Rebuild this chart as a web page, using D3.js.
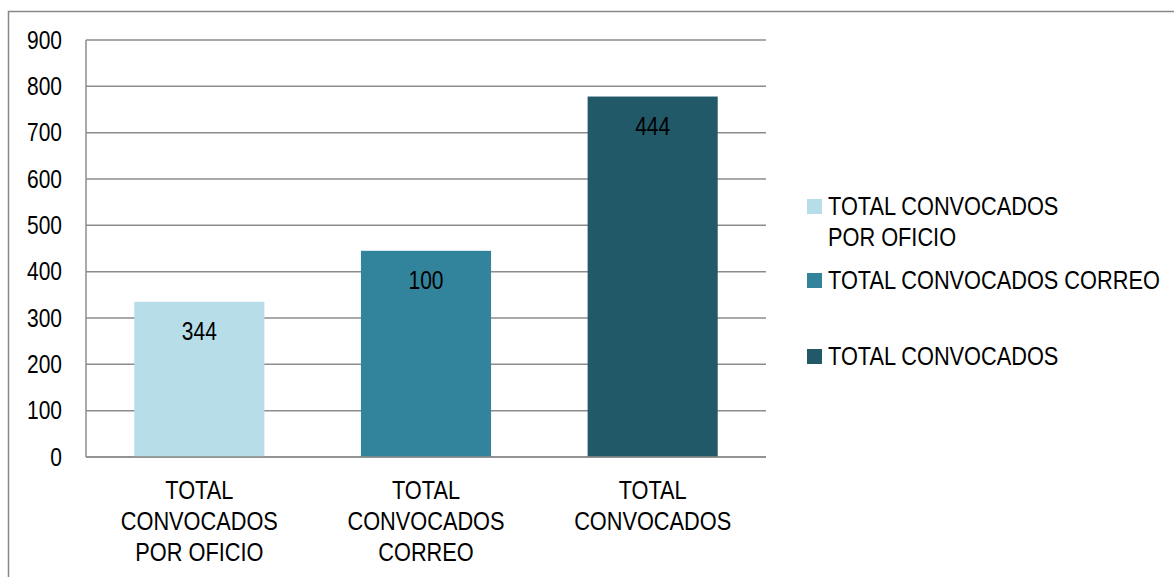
<!DOCTYPE html>
<html><head><meta charset="utf-8">
<script src="https://cdn.jsdelivr.net/npm/d3@7"></script>
<style>body{margin:0;background:#fff}svg{display:block}text{font-family:"Liberation Sans Narrow","Arial Narrow","Liberation Sans",sans-serif;fill:#000}</style>
</head><body><svg id="c" width="1174" height="577"></svg>
<script>
const categories = [["TOTAL","CONVOCADOS","POR OFICIO"],["TOTAL","CONVOCADOS","CORREO"],["TOTAL","CONVOCADOS"]];
const values = [335, 445, 778];
const dataLabels = ["344", "100", "444"];
const legendLabels = [["TOTAL CONVOCADOS","POR OFICIO"],["TOTAL CONVOCADOS CORREO"],["TOTAL CONVOCADOS"]];
const colors = ["#b7dde8", "#31849b", "#215968"];
const yTicks = [0,100,200,300,400,500,600,700,800,900];

const SX = 0.87, SXN = 0.84, FS = "25px";
const svg = d3.select("#c");
svg.append("rect").attr("x",8.5).attr("y",11.5).attr("width",1200).attr("height",600)
  .attr("fill","none").attr("stroke","#888").attr("stroke-width",1.5);

const x = d3.scaleBand().domain(d3.range(3)).range([86,766]).paddingInner(0.426).paddingOuter(0.213);
const y = d3.scaleLinear().domain([0,900]).range([457,40]);

const grid = svg.append("g");
grid.selectAll("line").data(yTicks).join("line")
  .attr("x1",86).attr("x2",766).attr("y1",d=>y(d)).attr("y2",d=>y(d))
  .attr("stroke","#8c8c8c").attr("stroke-width",1.5);
svg.append("line").attr("x1",86).attr("x2",86).attr("y1",y(900)).attr("y2",y(0))
  .attr("stroke","#8c8c8c").attr("stroke-width",1.5);

const yAxis = d3.axisLeft(y).tickValues(yTicks).tickSize(0).tickPadding(24/SXN);
const ya = svg.append("g").attr("transform","translate(86,0)").call(yAxis);
ya.select(".domain").remove();
ya.selectAll("text").style("font-size",FS).attr("fill","#000").attr("transform",`scale(${SXN},1)`);

svg.append("g").selectAll("rect").data(values).join("rect")
  .attr("x",(d,i)=>x(i)).attr("width",x.bandwidth())
  .attr("y",d=>y(d)).attr("height",d=>y(0)-y(d)).attr("fill",(d,i)=>colors[i]);
svg.append("line").attr("x1",86).attr("x2",766).attr("y1",y(0)).attr("y2",y(0))
  .attr("stroke","#8c8c8c").attr("stroke-width",1.5);

function txt(g, tx, ty, t, anchor, sx){
  return g.append("text").attr("transform",`translate(${tx},${ty}) scale(${sx||SX},1)`)
    .attr("text-anchor",anchor).attr("dominant-baseline","central")
    .style("font-size",FS).text(t);
}

const dl = svg.append("g");
values.forEach((d,i)=>txt(dl, x(i)+x.bandwidth()/2, y(d)+30, dataLabels[i], "middle", SXN));

const cl = svg.append("g");
categories.forEach((lines,i)=>{
  lines.forEach((t,j)=>txt(cl, x(i)+x.bandwidth()/2, 490+j*31, t, "middle"));
});

const legY = [206, 280, 356];
const lg = svg.append("g");
legendLabels.forEach((lines,i)=>{
  lg.append("rect").attr("x",807).attr("y",legY[i]-7).attr("width",15).attr("height",15).attr("fill",colors[i]);
  lines.forEach((t,j)=>txt(lg, 828, legY[i]+j*31, t, "start"));
});
</script></body></html>
